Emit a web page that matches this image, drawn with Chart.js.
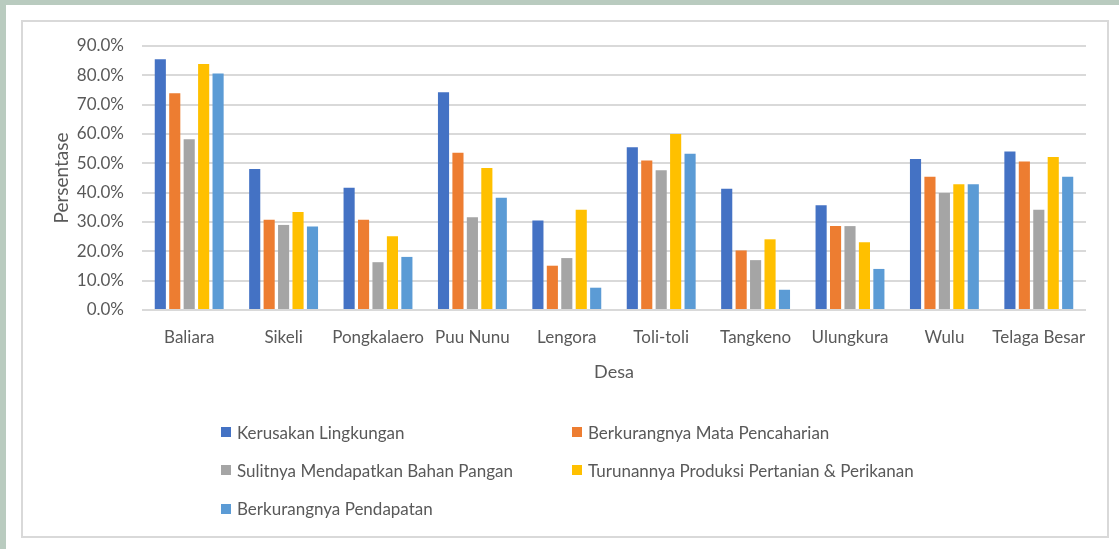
<!DOCTYPE html>
<html>
<head>
<meta charset="utf-8">
<script src="https://cdn.jsdelivr.net/npm/chart.js@4"></script>
<style>
  body{margin:0;background:#b9cbbf;width:1119px;height:549px;overflow:hidden;position:relative;font-family:Lato,sans-serif;}
  #kartu{position:absolute;left:6px;top:5px;width:1113px;height:544px;background:#fff;}
  #bingkai{position:absolute;left:21px;top:20px;width:1088px;height:518px;border:2px solid #d9d9d9;box-sizing:border-box;}
  #grafik{position:absolute;left:0;top:0;}
  #legenda{position:absolute;left:221px;top:419px;display:grid;grid-template-columns:351px auto;grid-auto-rows:38.3px;color:#595959;font-size:17px;}
  #legenda div{display:flex;align-items:center;height:26px;}
  #legenda span.kotak{width:10px;height:10px;margin-right:6px;display:inline-block;}
</style>
</head>
<body>
<div id="kartu"></div>
<div id="bingkai"></div>
<canvas id="grafik" width="1119" height="549"></canvas>
<div id="legenda"></div>
<script>
// Data desa dan persentase tiap dampak
const desa=["Baliara","Sikeli","Pongkalaero","Puu Nunu","Lengora","Toli-toli","Tangkeno","Ulungkura","Wulu","Telaga Besar"];
const kerusakanLingkungan=[85.5,48.1,41.7,74.2,30.5,55.5,41.3,35.7,51.5,54.0];
const berkurangMataPencaharian=[73.9,30.8,30.8,53.6,15.1,51.0,20.3,28.6,45.4,50.6];
const sulitBahanPangan=[58.2,29.0,16.3,31.6,17.7,47.6,17.0,28.6,39.9,34.2];
const turunProduksi=[83.9,33.4,25.1,48.4,34.2,60.0,24.1,23.1,42.9,52.2];
const berkurangPendapatan=[80.6,28.5,18.1,38.3,7.6,53.3,6.9,14.0,42.9,45.4];
const tickY=[0,10,20,30,40,50,60,70,80,90];

const abu="#595959";
const hurufLabel={family:"Lato",size:17};

const ctx=document.getElementById("grafik").getContext("2d");

const data={
  labels:desa,
  datasets:[
    {label:"Kerusakan Lingkungan",data:kerusakanLingkungan,backgroundColor:"#4472C4"},
    {label:"Berkurangnya Mata Pencaharian",data:berkurangMataPencaharian,backgroundColor:"#ED7D31"},
    {label:"Sulitnya Mendapatkan Bahan Pangan",data:sulitBahanPangan,backgroundColor:"#A5A5A5"},
    {label:"Turunannya Produksi Pertanian & Perikanan",data:turunProduksi,backgroundColor:"#FFC000"},
    {label:"Berkurangnya Pendapatan",data:berkurangPendapatan,backgroundColor:"#5B9BD5"}
  ]
};

const config={
  type:"bar",
  data:data,
  options:{
    responsive:false,
    animation:false,
    datasets:{bar:{barPercentage:0.77,categoryPercentage:0.765}},
    layout:{padding:{left:22,right:33,top:46,bottom:159}},
    plugins:{legend:{display:false},tooltip:{enabled:false}},
    scales:{
      x:{
        grid:{display:false,drawTicks:false},
        border:{display:false},
        ticks:{color:abu,font:hurufLabel,padding:17,maxRotation:0,autoSkip:false},
        title:{display:true,text:"Desa",color:abu,font:{family:"Lato",size:18},padding:{top:0,bottom:7}},
        afterFit:function(s){s.height=80;}
      },
      y:{
        min:0,max:90,
        afterBuildTicks:function(s){s.ticks=tickY.map(v=>({value:v}));},
        grid:{color:"#d9d9d9",lineWidth:2,drawTicks:false},
        border:{display:false},
        ticks:{color:abu,font:hurufLabel,padding:18,callback:v=>v.toFixed(1)+"%"},
        title:{display:true,text:"Persentase",color:abu,font:{family:"Lato",size:19},padding:{top:28,bottom:0}},
        afterFit:function(s){s.width=120;}
      }
    }
  }
};

let grafik=new Chart(ctx,config);

// Legenda dua kolom dibuat dari dataset
const legenda=document.getElementById("legenda");
grafik.data.datasets.forEach(ds=>{
  const item=document.createElement("div");
  item.innerHTML='<span class="kotak" style="background:'+ds.backgroundColor+'"></span>'+ds.label;
  legenda.appendChild(item);
});
</script>
</body>
</html>
